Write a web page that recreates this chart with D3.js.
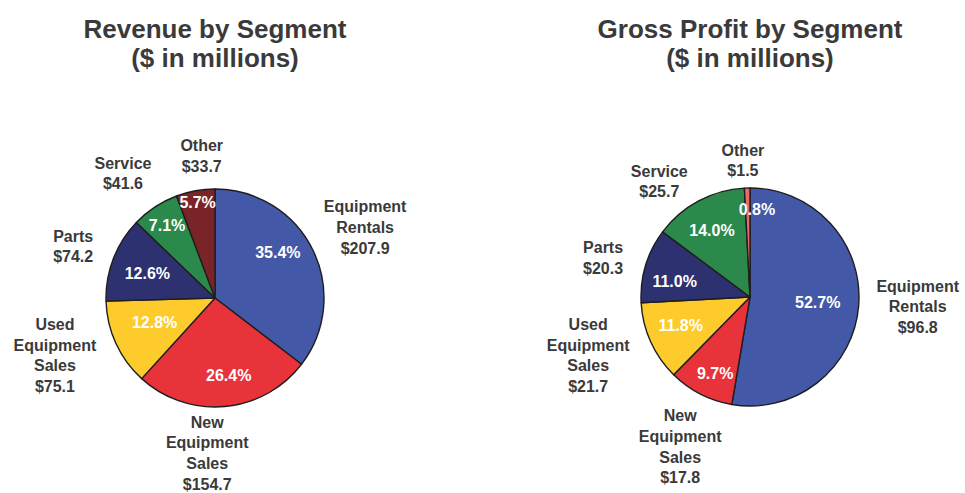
<!DOCTYPE html>
<html>
<head>
<meta charset="utf-8">
<script src="https://cdn.jsdelivr.net/npm/d3@7/dist/d3.min.js"></script>
<style>
  html, body { margin: 0; padding: 0; background: #ffffff; }
  svg { display: block; }
  text { font-family: "Liberation Sans", Arial, Helvetica, sans-serif; font-weight: bold; }
</style>
</head>
<body>
<svg id="chart" width="965" height="493"></svg>
<script>
// ---- data ----
const segments = ["Equipment Rentals", "New Equipment Sales", "Used Equipment Sales", "Parts", "Service", "Other"];
const segmentLabelLines = [["Equipment", "Rentals"], ["New", "Equipment", "Sales"], ["Used", "Equipment", "Sales"], ["Parts"], ["Service"], ["Other"]];
const revenueValues = [207.9, 154.7, 75.1, 74.2, 41.6, 33.7];
const revenuePct = ["35.4%", "26.4%", "12.8%", "12.6%", "7.1%", "5.7%"];
const grossProfitValues = [96.8, 17.8, 21.7, 20.3, 25.7, 1.5];
const grossProfitPct = ["52.7%", "9.7%", "11.8%", "11.0%", "14.0%", "0.8%"];
const revenueTitle = ["Revenue by Segment", "($ in millions)"];
const grossProfitTitle = ["Gross Profit by Segment", "($ in millions)"];

// ---- styles / layout ----
const revenueColors = ["#4358A6", "#E8333A", "#FDCB2C", "#2D3170", "#2B8A4B", "#7A2427"];
const grossProfitColors = ["#4358A6", "#E8333A", "#FDCB2C", "#2D3170", "#2B8A4B", "#E76A6C"];
// [radius px, angle shift deg] relative to each slice's mid-angle
const revenueInnerLayout = [[78, -10], [78, -5], [65, 3], [72, -1], [87, 0], [97, 0]];
const revenueOuterLayout = [[166, 1], [155, 8], [170, 5], [151, -1], [155, -3], [143, 5]];
const gpInnerLayout = [[68, 0], [84, -2.5], [75, 2], [77, -5], [77, -1.5], [88, 6]];
const gpOuterLayout = [[168, -1.5], [165, -2], [172, 4.5], [152, -2], [147, -10], [137, -1.5]];

const svg = d3.select("#chart");
const textColor = "#3a3a3a";
const R = 109;

function drawPie(cfg) {
  const g = svg.append("g").attr("transform", `translate(${cfg.cx},${cfg.cy})`);
  const pie = d3.pie().sort(null).value(d => d);
  const arcs = pie(cfg.values);
  const arc = d3.arc().innerRadius(0).outerRadius(R);

  g.selectAll("path.slice").data(arcs).enter().append("path")
    .attr("class", "slice")
    .attr("d", arc)
    .attr("fill", (d, i) => cfg.colors[i])
    .attr("stroke", "#1e1e1e")
    .attr("stroke-width", 1.4)
    .attr("stroke-linejoin", "round");

  const polar = (d, lay) => {
    const a = (d.startAngle + d.endAngle) / 2 + lay[1] * Math.PI / 180;
    return [Math.sin(a) * lay[0], -Math.cos(a) * lay[0]];
  };

  // percentage labels
  g.selectAll("text.pct").data(arcs).enter().append("text")
    .attr("class", "pct")
    .attr("x", (d, i) => polar(d, cfg.inner[i])[0])
    .attr("y", (d, i) => polar(d, cfg.inner[i])[1])
    .attr("dy", "0.36em")
    .attr("text-anchor", "middle")
    .attr("font-size", 16)
    .attr("fill", "#ffffff")
    .text((d, i) => cfg.pct[i]);

  // outer labels
  const lh = 20.7;
  arcs.forEach((d, i) => {
    const [x, y] = polar(d, cfg.outer[i]);
    const lines = segmentLabelLines[i].concat(["$" + cfg.values[i].toFixed(1)]);
    const t = g.append("text")
      .attr("text-anchor", "middle")
      .attr("font-size", 16)
      .attr("fill", textColor);
    lines.forEach((ln, j) => {
      t.append("tspan")
        .attr("x", x)
        .attr("y", y + (j - (lines.length - 1) / 2) * lh)
        .attr("dy", "0.36em")
        .text(ln);
    });
  });

  // title
  cfg.title.forEach((ln, j) => {
    svg.append("text")
      .attr("x", cfg.cx)
      .attr("y", 38 + j * 28.5)
      .attr("text-anchor", "middle")
      .attr("font-size", 26)
      .attr("fill", textColor)
      .text(ln);
  });
}

drawPie({ cx: 215, cy: 298, values: revenueValues, pct: revenuePct, colors: revenueColors,
  inner: revenueInnerLayout, outer: revenueOuterLayout, title: revenueTitle });
drawPie({ cx: 750, cy: 297, values: grossProfitValues, pct: grossProfitPct, colors: grossProfitColors,
  inner: gpInnerLayout, outer: gpOuterLayout, title: grossProfitTitle });
</script>
</body>
</html>
